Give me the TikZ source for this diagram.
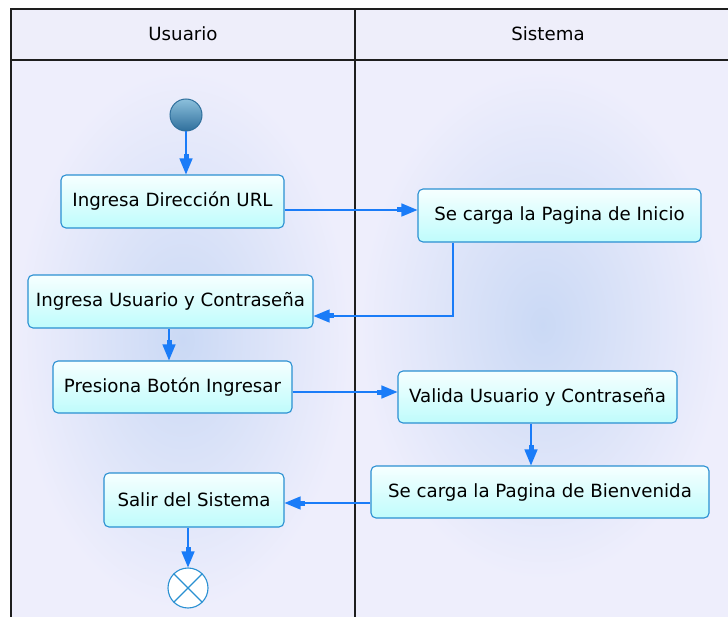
\documentclass[tikz,border=0pt]{standalone}
\usepackage{fontspec}
\setmainfont{DejaVu Sans}
\usetikzlibrary{arrows.meta,positioning,calc}
\definecolor{lanebg}{HTML}{EEEEFC}
\definecolor{laneglow}{HTML}{CAD9F5}
\definecolor{headbg}{HTML}{EEEEFA}
\definecolor{framecol}{HTML}{1E1E1E}
\definecolor{flowblue}{HTML}{1A7CF8}
\definecolor{actline}{HTML}{2A90D2}
\definecolor{actlight}{HTML}{F6FFFF}
\definecolor{actdark}{HTML}{BFFCFC}
\definecolor{ballhi}{HTML}{8CC0DC}
\definecolor{balllo}{HTML}{2F6F9C}

\begin{document}
\begin{tikzpicture}[
  x=1pt,y=-1pt,
  font=\fontsize{18.2}{21}\selectfont,
  act/.style={draw=actline,line width=1.1pt,rounded corners=5pt,top color=actlight,bottom color=actdark,
    minimum height=53pt,inner sep=0pt,align=center},
  flow/.style={draw=flowblue,line width=1.4pt,
    -{Rectangle[length=9pt,width=5pt,sep=-5pt]Triangle[length=16pt,width=13pt]}},
  frame/.style={draw=framecol,line width=1.4pt}
]
\useasboundingbox (0,0) rectangle (728,617);
% swimlanes
\fill[lanebg] (11,60) rectangle (728,617);
\shade[inner color=laneglow,outer color=lanebg] (15,70) rectangle (350,610);
\shade[inner color=laneglow,outer color=lanebg] (360,70) rectangle (725,580);
\fill[headbg] (11,9) rectangle (728,60);
\draw[frame] (11,617) -- (11,9) -- (728,9);
\draw[frame] (11,60) -- (728,60);
\draw[frame] (355,9) -- (355,617);
\node (usuario) at (183,34) {Usuario};
\node (sistema) at (548,34) {Sistema};

% actions
\node[circle,draw=balllo,line width=1pt,top color=ballhi,bottom color=balllo,minimum size=32pt,inner sep=0pt] (start) at (186,115) {};
\node[act,minimum width=223pt] (url) at (172.5,201.5) {Ingresa Dirección URL};
\node[act,minimum width=283pt] (inicio) at (559.5,215.5) {Se carga la Pagina de Inicio};
\node[act,minimum width=285pt] (login) at (170.5,301.5) {Ingresa Usuario y Contraseña};
\node[act,minimum width=239pt,minimum height=52pt] (boton) at (172.5,387) {Presiona Botón Ingresar};
\node[act,minimum width=279pt,minimum height=52pt] (valida) at (537.5,397) {Valida Usuario y Contraseña};
\node[act,minimum width=338pt,minimum height=52pt] (bienv) at (540,492) {Se carga la Pagina de Bienvenida};
\node[act,minimum width=180pt,minimum height=54pt] (salir) at (194,500) {Salir del Sistema};
\node[circle,draw=actline,line width=1.1pt,fill=white,minimum size=40pt,inner sep=0pt,
  path picture={\draw[actline,line width=1.1pt] (path picture bounding box.north west) -- (path picture bounding box.south east)
    (path picture bounding box.north east) -- (path picture bounding box.south west);}] (fin) at (188,588) {};

% transitions
\draw[flow] (start) -- (start |- url.north);
\draw[flow] (url.east |- 0,210) -- (inicio.west |- 0,210);
\draw[flow] (inicio.south -| 453,0) |- (login.east |- 0,316);
\draw[flow] (login.south -| 169,0) -- (boton.north -| 169,0);
\draw[flow] (boton.east |- 0,392) -- (valida.west |- 0,392);
\draw[flow] (valida.south -| 531,0) -- (bienv.north -| 531,0);
\draw[flow] (bienv.west |- 0,503) -- (salir.east |- 0,503);
\draw[flow] (salir.south -| fin) -- (fin.north);
\end{tikzpicture}
\end{document}
